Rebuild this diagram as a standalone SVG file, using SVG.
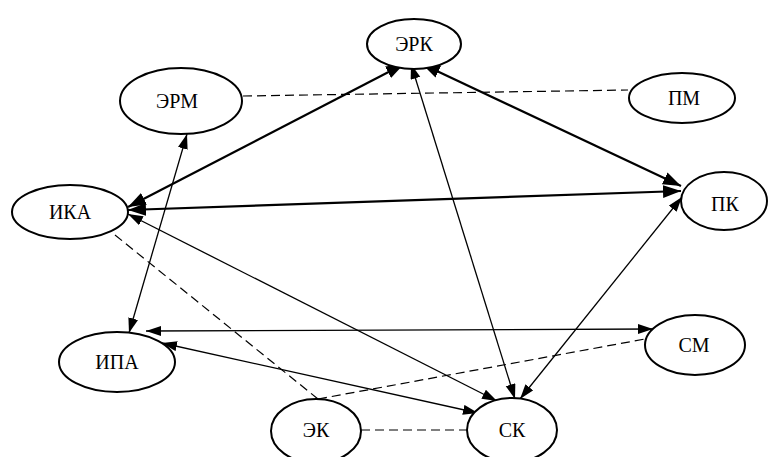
<svg xmlns="http://www.w3.org/2000/svg" width="768" height="457" viewBox="0 0 768 457">
<style>
.node ellipse{fill:#fff;stroke:#000;stroke-width:2}
.node text{font-family:'Liberation Serif','DejaVu Serif','Times New Roman',serif;font-size:20px;fill:#000;text-anchor:middle}
.thick{stroke:#000;stroke-width:2.2;fill:none;marker-start:url(#ah);marker-end:url(#ah)}
.thin{stroke:#000;stroke-width:1.3;fill:none;marker-start:url(#as);marker-end:url(#as)}
.dash{stroke:#000;stroke-width:1.2;fill:none;stroke-dasharray:9 5}
</style>
<defs>
<marker id="ah" markerUnits="userSpaceOnUse" markerWidth="19" markerHeight="14" refX="18" refY="6.5" orient="auto-start-reverse"><path d="M0,0 L18,6.5 L0,13 z" fill="#000"/></marker>
<marker id="as" markerUnits="userSpaceOnUse" markerWidth="16" markerHeight="11" refX="15" refY="5" orient="auto-start-reverse"><path d="M0,0 L15,5 L0,10 z" fill="#000"/></marker>
</defs>
<rect width="768" height="457" fill="#fff"/>
<g id="connectors">
<line class="dash" x1="243" y1="96" x2="628" y2="90"/>
<line class="dash" x1="115" y1="235" x2="318" y2="399"/>
<line class="dash" x1="318" y1="399" x2="645" y2="339"/>
<line class="dash" x1="361" y1="430" x2="467" y2="430"/>
<line class="thick" x1="128" y1="207" x2="404" y2="64"/>
<line class="thick" x1="422" y1="64" x2="681" y2="186"/>
<line class="thick" x1="128" y1="210" x2="681" y2="191"/>
<line class="thin" x1="411" y1="64" x2="515" y2="399"/>
<line class="thin" x1="187" y1="134" x2="129" y2="333"/>
<line class="thin" x1="128" y1="214" x2="497" y2="401"/>
<line class="thin" x1="146" y1="331" x2="653" y2="329"/>
<line class="thin" x1="162" y1="343" x2="478" y2="413"/>
<line class="thin" x1="682" y1="197" x2="520" y2="399"/>
</g>
<g id="n-erk" class="node"><ellipse cx="414" cy="44" rx="47" ry="25"/><text x="414" y="51">ЭРК</text></g>
<g id="n-erm" class="node"><ellipse cx="181" cy="101" rx="61" ry="33"/><text x="177" y="108">ЭРМ</text></g>
<g id="n-pm" class="node"><ellipse cx="682" cy="98" rx="53" ry="25"/><text x="684" y="105">ПМ</text></g>
<g id="n-ika" class="node"><ellipse cx="70" cy="212" rx="58" ry="27"/><text x="70" y="219">ИКА</text></g>
<g id="n-pk" class="node"><ellipse cx="724" cy="201" rx="43" ry="29"/><text x="725" y="211">ПК</text></g>
<g id="n-ipa" class="node"><ellipse cx="117" cy="362" rx="58" ry="30"/><text x="117" y="369">ИПА</text></g>
<g id="n-sm" class="node"><ellipse cx="695" cy="345" rx="50" ry="30"/><text x="694" y="352">СМ</text></g>
<g id="n-ek" class="node"><ellipse cx="316" cy="431" rx="45" ry="32"/><text x="316" y="437">ЭК</text></g>
<g id="n-sk" class="node"><ellipse cx="512" cy="430" rx="45" ry="32"/><text x="512" y="437">СК</text></g>
</svg>
